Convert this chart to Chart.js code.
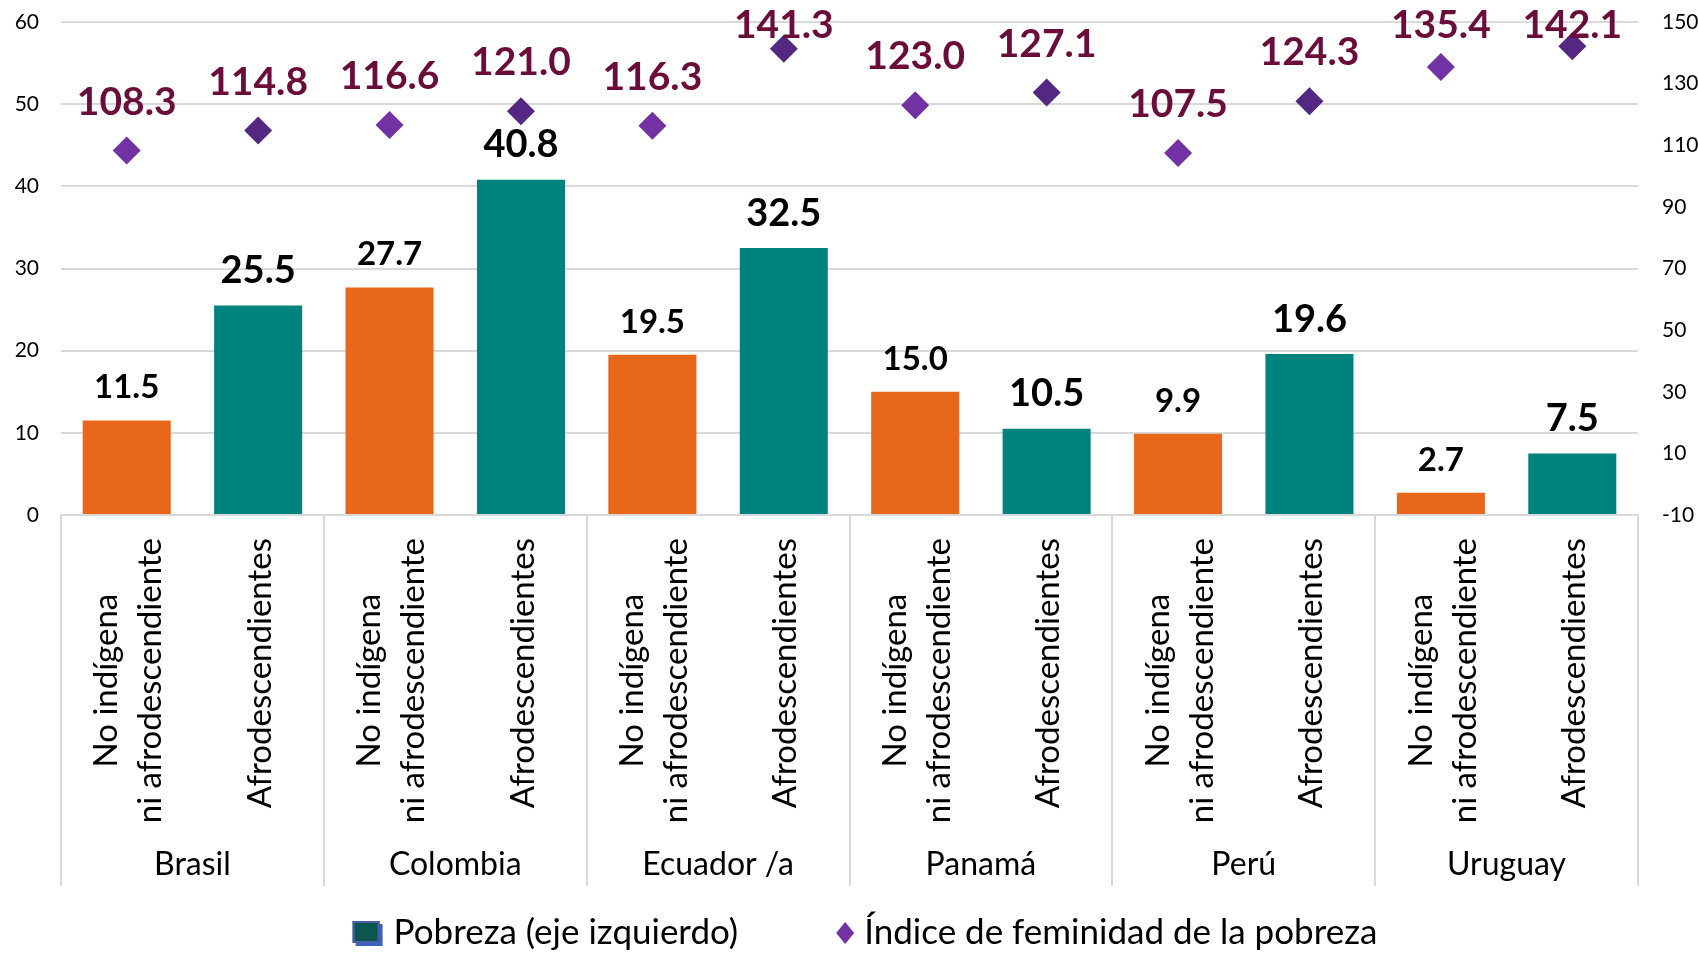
<!DOCTYPE html>
<html><head><meta charset="utf-8">
<script src="https://cdn.jsdelivr.net/npm/chart.js@4.4.1/dist/chart.umd.min.js"></script>
<style>html,body{margin:0;padding:0;background:#fff;overflow:hidden}#wrap{width:1698px;height:953px;position:relative}</style>
</head><body><div id="wrap"><canvas id="c"></canvas></div>
<script>
const countries = ['Brasil', 'Colombia', 'Ecuador /a', 'Panamá', 'Perú', 'Uruguay'];
const groupLabels = [['No indígena', 'ni afrodescendiente'], ['Afrodescendientes']];
const pobreza = [11.5, 25.5, 27.7, 40.8, 19.5, 32.5, 15.0, 10.5, 9.9, 19.6, 2.7, 7.5];
const feminidad = [108.3, 114.8, 116.6, 121.0, 116.3, 141.3, 123.0, 127.1, 107.5, 124.3, 135.4, 142.1];
const leftTicks = [0, 10, 20, 30, 40, 50, 60];
const rightTicks = [-10, 10, 30, 50, 70, 90, 110, 130, 150];
const seriesNames = ['Pobreza (eje izquierdo)', 'Índice de feminidad de la pobreza'];

const categories = countries.flatMap(() => groupLabels);

const FONT = 'Lato, "Noto Sans", sans-serif';
const ORANGE = '#e8671a', TEAL = '#00827f';
const PURPLE_L = '#7232a3', PURPLE_D = '#542782';
const GRID = '#d9d9d9';

const annot = {
  id: 'annot',
  afterDatasetsDraw(chart) {
    const ctx = chart.ctx;
    const ptMeta = chart.getDatasetMeta(0);
    const barMeta = chart.getDatasetMeta(1);
    ctx.save();
    ctx.textAlign = 'center';
    ctx.textBaseline = 'alphabetic';
    barMeta.data.forEach((el, i) => {
      const odd = i % 2 === 1;
      const size = odd ? 38 : 33;
      ctx.font = `bold ${size}px ${FONT}`;
      ctx.fillStyle = '#000';
      const center = el.y - (odd ? 36 : 34);
      ctx.fillText(pobreza[i].toFixed(1), el.x, center + size * 0.36);
    });
    ptMeta.data.forEach((el, i) => {
      const size = 39;
      ctx.font = `bold ${size}px ${FONT}`;
      ctx.fillStyle = '#6b0d3b';
      const center = Math.max(el.y - 50, chart.chartArea.top + 2);
      ctx.fillText(feminidad[i].toFixed(1), el.x, center + size * 0.36);
    });
    ctx.restore();
  },
  afterDraw(chart) {
    const ctx = chart.ctx;
    const xs = chart.scales.x;
    const base = chart.chartArea.bottom;
    ctx.save();
    ctx.fillStyle = '#000';
    // rotated category labels
    ctx.font = `33px ${FONT}`;
    chart.data.labels.forEach((lines, i) => {
      const cx = xs.getPixelForValue(i);
      const W = Math.max(...lines.map(l => ctx.measureText(l).width));
      ctx.save();
      ctx.translate(cx + 2, base + 23 + W / 2);
      ctx.rotate(-Math.PI / 2);
      ctx.textAlign = 'center';
      ctx.textBaseline = 'middle';
      lines.forEach((l, j) => ctx.fillText(l, 0, (j - (lines.length - 1) / 2) * 44));
      ctx.restore();
    });
    // country labels
    ctx.font = `32px ${FONT}`;
    ctx.textAlign = 'center';
    ctx.textBaseline = 'middle';
    countries.forEach((c, k) => {
      const cx = (xs.getPixelForValue(2 * k) + xs.getPixelForValue(2 * k + 1)) / 2;
      ctx.fillText(c, cx, base + 350);
    });
    // legend
    ctx.font = `35px ${FONT}`;
    ctx.textAlign = 'left';
    const w1 = ctx.measureText(seriesNames[0]).width;
    const w2 = ctx.measureText(seriesNames[1]).width;
    const total = 30 + 11 + w1 + 98 + 18 + 10 + w2;
    let x = chart.width / 2 + 16 - total / 2;
    const y = 933;
    ctx.fillStyle = '#3d63bd';
    ctx.fillRect(x + 3, y - 12 + 3, 27, 22);
    ctx.fillStyle = '#0d5650';
    ctx.fillRect(x, y - 12, 27, 22);
    ctx.strokeStyle = '#4b5ea8';
    ctx.lineWidth = 2;
    ctx.strokeRect(x + 1, y - 11, 25, 20);
    x += 41;
    ctx.fillStyle = '#000';
    ctx.fillText(seriesNames[0], x, y);
    x += w1 + 98;
    ctx.fillStyle = PURPLE_L;
    ctx.beginPath();
    ctx.moveTo(x + 9, y - 11); ctx.lineTo(x + 18, y); ctx.lineTo(x + 9, y + 11); ctx.lineTo(x, y);
    ctx.closePath(); ctx.fill();
    x += 28;
    ctx.fillStyle = '#000';
    ctx.fillText(seriesNames[1], x, y);
    ctx.restore();
  }
};

new Chart(document.getElementById('c'), {
  data: {
    labels: categories,
    datasets: [
      {
        type: 'line',
        label: seriesNames[1],
        data: feminidad,
        yAxisID: 'y1',
        showLine: false,
        pointStyle: 'rectRot',
        pointRadius: 14,
        pointHoverRadius: 14,
        pointBorderWidth: 0,
        pointBackgroundColor: c => (c.dataIndex % 2 ? PURPLE_D : PURPLE_L),
        order: 0
      },
      {
        type: 'bar',
        label: seriesNames[0],
        data: pobreza,
        yAxisID: 'y',
        backgroundColor: c => (c.dataIndex % 2 ? TEAL : ORANGE),
        categoryPercentage: 1,
        barPercentage: 0.67,
        order: 1
      }
    ]
  },
  options: {
    responsive: true,
    maintainAspectRatio: false,
    animation: false,
    layout: { padding: { top: 22, left: 0, right: 0, bottom: 0 } },
    plugins: { legend: { display: false }, tooltip: { enabled: false } },
    font: { family: FONT },
    scales: {
      x: {
        type: 'category',
        offset: true,
        ticks: { display: false },
        grid: {
          offset: true,
          drawOnChartArea: false,
          drawTicks: true,
          tickLength: 371,
          lineWidth: 2,
          color: c => (c.index === undefined || c.index % 2 === 0 ? GRID : 'rgba(0,0,0,0)')
        },
        border: { display: true, color: GRID, width: 2 },
        afterFit: s => { s.height = 438; }
      },
      y: {
        position: 'left',
        min: leftTicks[0],
        max: leftTicks[leftTicks.length - 1],
        ticks: { stepSize: leftTicks[1] - leftTicks[0], padding: 22, color: '#000', font: { family: FONT, size: 21 } },
        grid: { color: GRID, lineWidth: 2, drawTicks: false },
        border: { display: false },
        afterFit: s => { s.width = 61; s.paddingTop = 0; s.paddingBottom = 0; }
      },
      y1: {
        position: 'right',
        min: rightTicks[0],
        max: rightTicks[rightTicks.length - 1],
        ticks: { stepSize: rightTicks[1] - rightTicks[0], padding: 24, color: '#000', font: { family: FONT, size: 21 } },
        grid: { display: false, drawTicks: false },
        border: { display: false },
        afterFit: s => { s.width = 60; s.paddingTop = 0; s.paddingBottom = 0; }
      }
    }
  },
  plugins: [annot]
});
</script>
</body></html>
